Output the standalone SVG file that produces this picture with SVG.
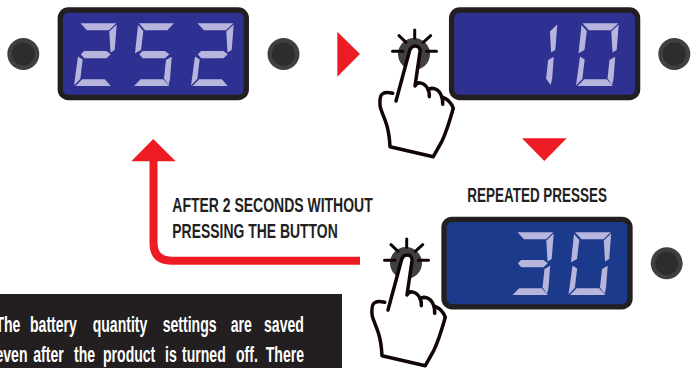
<svg xmlns="http://www.w3.org/2000/svg" width="691" height="368" viewBox="0 0 691 368">
<style>
.lcd{stroke:#231f20;stroke-width:5.3}
.seg{fill:#b7b5dc}
.lbl{font-family:"Liberation Sans",Arial,sans-serif;font-weight:700;font-size:20.5px;fill:#231f20}
.note{font-family:"Liberation Sans",Arial,sans-serif;font-weight:700;font-size:21.5px;fill:#fff}
.red{fill:#ed1c24}
.ol{fill:#404040}.il{fill:#2e2d2d}
.ray{stroke:#120506;stroke-width:3;stroke-linecap:round;fill:none}
.hand{fill:#fff;stroke:#120506;stroke-width:3.5;stroke-linejoin:round;stroke-linecap:round}
.hook{fill:none;stroke:#120506;stroke-width:3.500;stroke-linecap:round}
</style>
<defs>
<g id="d2" class="seg"><polygon points="80.5,23.3 116.3,23.3 109,30.3 87,30.3"/><polygon points="116.7,24.5 114.7,50 110.5,52.5 109.3,31.5"/><polygon points="80.8,54.3 84.2,51 106.5,51 110.8,54.3 106.5,58.3 84.2,58.3"/><polygon points="78,56.5 82.7,59.5 80.3,79 74,85.5"/><polygon points="75.5,86 82.2,79.3 104.8,79.3 110.8,86"/></g>
<g id="d5" class="seg"><polygon points="80.5,23.3 115.5,23.3 108.8,30.3 86.5,30.3"/><polygon points="79.5,25 84.8,31 82.5,50 76.5,53.3"/><polygon points="80.8,54.3 84.2,51 106.5,51 110.8,54.3 106.5,58.3 84.2,58.3"/><polygon points="113.2,56.7 111.5,79 110,85 105.5,78.5 107.5,60"/><polygon points="75.5,86 82.2,79.3 104.8,79.3 110.8,86"/></g>
<g id="d3" class="seg"><polygon points="80.5,23.3 116.3,23.3 109,30.3 87,30.3"/><polygon points="116.7,24.5 114.7,50 110.5,52.5 109.3,31.5"/><polygon points="80.8,54.3 84.2,51 106.5,51 110.8,54.3 106.5,58.3 84.2,58.3"/><polygon points="113.2,56.7 111.5,79 110,85 105.5,78.5 107.5,60"/><polygon points="75.5,86 82.2,79.3 104.8,79.3 110.8,86"/></g>
<g id="d0" class="seg"><polygon points="80.5,23.3 116.3,23.3 109,30.3 87,30.3"/><polygon points="116.7,24.5 114.7,50 110.5,52.5 109.3,31.5"/><polygon points="113.2,56.7 111.5,79 110,85 105.5,78.5 107.5,60"/><polygon points="75.5,86 82.2,79.3 104.8,79.3 110.8,86"/><polygon points="78,56.5 82.7,59.5 80.3,79 74,85.5"/><polygon points="79.5,25 84.8,31 82.5,50 76.5,53.3"/></g>
<g id="d1" class="seg"><polygon points="116.7,24.5 114.7,50 110.5,52.5 109.3,31.5"/><polygon points="113.2,56.7 111.5,79 110,85 105.5,78.5 107.5,60"/></g>
<g id="presser">
<circle class="ol" cx="414" cy="54" r="16"/>
<path class="ray" d="M414.7 30V38M392.5 51.3H403M426.5 51.3H436.5M399 35.7L406 42.3M430.7 35.7L423.3 42.3"/>
<path class="hand" d="M396 101L409.300 51.700C411 44 420.500 44 420 51.700L415 86C417 81 425 82 428.300 90C431 87 439 88 441.700 96.700C444 98 450 99 453.300 108.300C450 120 446 133 441.700 141.700L433.300 156.700L390 146.700C389.500 137 388.500 131 386.700 125C384 116 380 109 380 105C379.500 97 381 94 383.300 93.300C386 92 389 92.500 392.700 93.300"/>
<path class="hook" d="M428.300 90C429.300 92 429.500 94 429.300 96.700M441.700 96.700C442.700 99 442.900 101 442.700 104.300"/>
</g>
</defs>
<g id="connectors">
<path d="M360 260.700H172Q153.500 260.700 153.500 243V158" fill="none" stroke="#ed1c24" stroke-width="8"/>
<polygon class="red" points="153.300,139 175.700,161.300 131.300,161.300"/>
<polygon class="red" points="337.300,31.700 360,54 337.300,76.700"/>
<polygon class="red" points="522,138.300 566.700,138.300 544.300,161"/>
</g>
<g id="button-a"><circle class="ol" cx="23.300" cy="54" r="16"/><circle class="il" cx="23.300" cy="54" r="11.500"/></g>
<g id="display-252">
<rect class="lcd" x="60.300" y="10" width="186" height="87.500" rx="8" fill="#2e3192"/>
<use href="#d2"/><use href="#d5" x="58.500"/><use href="#d2" x="117"/>
</g>
<g id="button-b"><circle class="ol" cx="283.500" cy="54" r="16"/><circle class="il" cx="283.500" cy="54" r="11.500"/></g>
<g id="presser-1"><use href="#presser"/></g>
<g id="display-10">
<rect class="lcd" x="451.600" y="10" width="186" height="87.500" rx="8" fill="#2e3192"/>
<use href="#d1" x="440.600"/><use href="#d0" x="502"/>
</g>
<g id="button-c"><circle class="ol" cx="674.300" cy="54" r="16"/><circle class="il" cx="674.300" cy="54" r="11.500"/></g>
<g id="presser-2"><use href="#presser" x="-8" y="209"/></g>
<g id="display-30">
<rect class="lcd" x="444" y="219.300" width="186" height="87.500" rx="8" fill="#1b3a8c"/>
<use href="#d3" x="437" y="209"/><use href="#d0" x="494.500" y="209"/>
</g>
<g id="button-d"><circle class="ol" cx="666.700" cy="263.300" r="16"/><circle class="il" cx="666.700" cy="263.300" r="11.500"/></g>
<g id="labels">
<text class="lbl" x="467.300" y="202" textLength="139.700" lengthAdjust="spacingAndGlyphs">REPEATED PRESSES</text>
<text class="lbl" x="172.300" y="211.500" textLength="200.400" lengthAdjust="spacingAndGlyphs">AFTER 2 SECONDS WITHOUT</text>
<text class="lbl" x="172.300" y="238.300" textLength="165.400" lengthAdjust="spacingAndGlyphs">PRESSING THE BUTTON</text>
</g>
<g id="note">
<rect x="0" y="294" width="342" height="74" fill="#231f20"/>
<g transform="scale(.654,1)">
<text class="note" y="331.700"><tspan x="-7">The</tspan> <tspan x="45.900">battery</tspan> <tspan x="141.700">quantity</tspan> <tspan x="248.800">settings</tspan> <tspan x="352.800">are</tspan> <tspan x="403.700">saved</tspan></text>
<text class="note" y="361.700"><tspan x="-7">even</tspan> <tspan x="50.900">after</tspan> <tspan x="113.100">the</tspan> <tspan x="157.500">product</tspan> <tspan x="252.300">is</tspan> <tspan x="278.300">turned</tspan> <tspan x="360.900">off.</tspan> <tspan x="406.300">There</tspan></text>
</g>
</g>
</svg>
